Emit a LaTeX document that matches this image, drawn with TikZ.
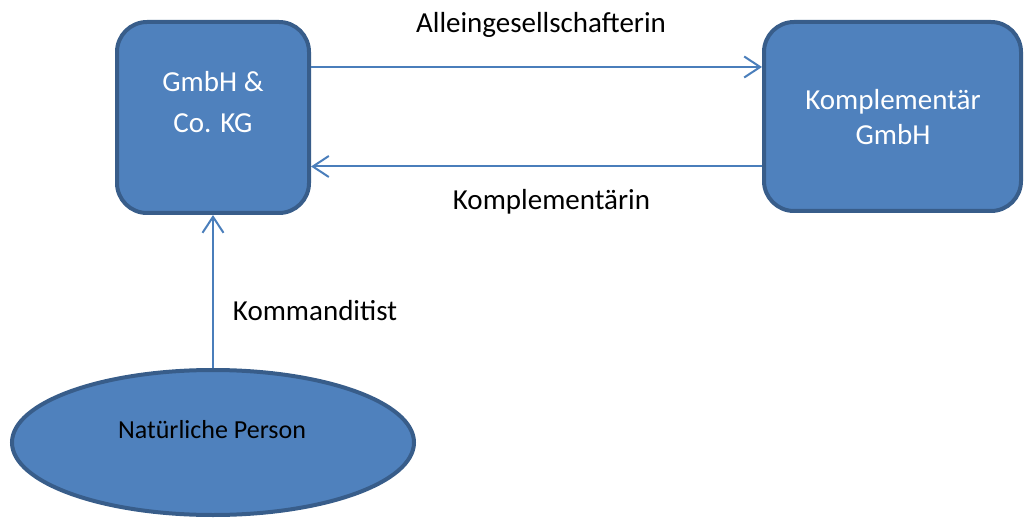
\documentclass[tikz,border=0pt]{standalone}
\usepackage{fontspec}
\setmainfont{Carlito}
\usetikzlibrary{arrows.meta,shapes.geometric}
\definecolor{officeblue}{HTML}{4F81BD}
\definecolor{officeedge}{HTML}{385D8A}
\definecolor{officeline}{HTML}{4A7EBB}
\tikzset{
  entity/.style={draw=officeedge, fill=officeblue, line width=4pt},
  box/.style={entity, rectangle, rounded corners=30pt},
  boxtext/.style={text=white, align=center},
  link/.style={draw=officeline, line width=2pt,
    -{Straight Barb[length=16pt,width=21pt,line width=2pt]}},
  caption/.style={anchor=base, font=\fontsize{29}{35}\selectfont}
}
\begin{document}
\begin{tikzpicture}[x=1pt,y=-1pt]
  \useasboundingbox (0,0) rectangle (1024,518);
  % shapes
  \node[box, minimum width=192pt, minimum height=191pt] (gmbh) at (213,117.5) {};
  \node[box, minimum width=257pt, minimum height=189pt] (kompl) at (892.5,116.5) {};
  \node[entity, ellipse, minimum width=402pt, minimum height=145pt, inner sep=0pt] (person) at (213,442.5) {};
  % texts in the shapes
  \node[boxtext, font=\fontsize{29}{41}\selectfont] (gmbhtext) at (213,102.5) {GmbH \&\\Co. KG};
  \node[boxtext, font=\fontsize{29}{35}\selectfont] (kompltext) at (893,117.5) {Komplement\"ar\\GmbH};
  \node[anchor=base, font=\fontsize{26}{31}\selectfont] (persontext) at (212,438) {Nat\"urliche Person};
  % connectors
  \draw[link] ([yshift=50.5pt]gmbh.east) -- ([yshift=50.5pt]gmbh.east -| kompl.west);
  \draw[link] ([yshift=-50pt]kompl.west) -- ([yshift=-50pt]kompl.west -| gmbh.east);
  \draw[link] (person.north) -- (gmbh.south);
  % labels
  \node[caption] (allein) at (541,33) {Alleingesellschafterin};
  \node[caption] (komplin) at (551.5,210) {Komplement\"arin};
  \node[caption] (kommandit) at (315,320) {Kommanditist};
\end{tikzpicture}
\end{document}
